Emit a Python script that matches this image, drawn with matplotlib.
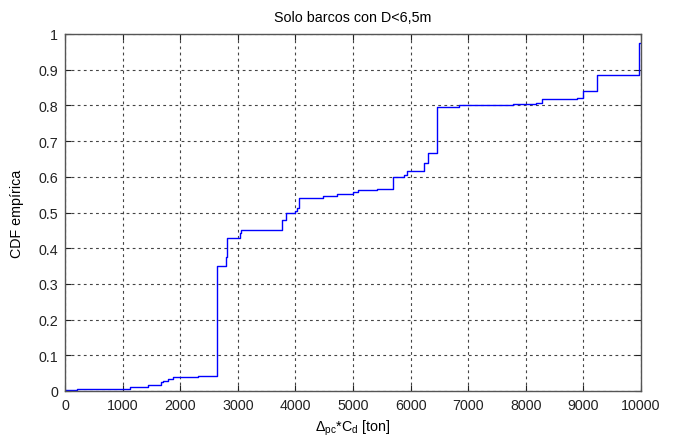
import numpy as np
import matplotlib
matplotlib.use("Agg")
import matplotlib.pyplot as plt

plt.rcParams['font.family'] = ['Liberation Sans', 'DejaVu Sans']
plt.rcParams['mathtext.fontset'] = 'custom'
plt.rcParams['mathtext.rm'] = 'Liberation Sans'
plt.rcParams['mathtext.it'] = 'Liberation Sans'

# empirical CDF: jump positions (ton) and level after each jump
x_jump = [0, 202, 1128, 1447, 1660, 1706, 1790, 1880, 2314, 2635,
          2790, 2810, 3030, 3060, 3770, 3840, 3990, 4030, 4060, 4474,
          4720, 5000, 5095, 5420, 5700, 5880, 5930, 6230, 6310, 6465,
          6840, 7420, 7780, 8180, 8285, 8885, 8990, 9240, 9960]
cdf = [0.003, 0.006, 0.011, 0.016, 0.025, 0.029, 0.033, 0.039, 0.043, 0.350,
       0.376, 0.429, 0.443, 0.450, 0.478, 0.498, 0.505, 0.512, 0.540, 0.545,
       0.553, 0.558, 0.563, 0.566, 0.600, 0.605, 0.617, 0.640, 0.668, 0.795,
       0.800, 0.802, 0.805, 0.808, 0.818, 0.822, 0.840, 0.884, 0.975]

x_ticks = np.arange(0, 10001, 1000)
y_ticks = np.round(np.arange(0, 1.01, 0.1), 1)

fig = plt.figure(figsize=(6.78, 4.39), dpi=100)
ax = fig.add_axes([65 / 678, 47 / 439, 576 / 678, 357 / 439])

xs = np.append(x_jump, 10000)
ys = np.append(cdf, cdf[-1])
ax.step(xs, ys, where='post', color='#0000ff', lw=1.0)

ax.set_xlim(0, 10000)
ax.set_ylim(0, 1)
ax.set_xticks(x_ticks)
ax.set_yticks(y_ticks)
ax.set_yticklabels([f"{v:g}" for v in y_ticks])
ax.grid(True, color='#444444', linestyle=(0, (2.5, 3)), lw=0.8)
ax.tick_params(direction='in', length=4, top=True, right=True,
               labelsize=10.3, colors='#222222', pad=5)
for s in ax.spines.values():
    s.set_color('#555555')
    s.set_linewidth(1.0)

ax.set_title("Solo barcos con D<6,5m", fontsize=10.3, pad=9)
ax.set_xlabel(r"$\Delta_{pc}$*C$_d$ [ton]", fontsize=10.3, labelpad=4)
ax.set_ylabel("CDF empírica", fontsize=10.3, labelpad=10)

fig.savefig("out.png", dpi=100)
